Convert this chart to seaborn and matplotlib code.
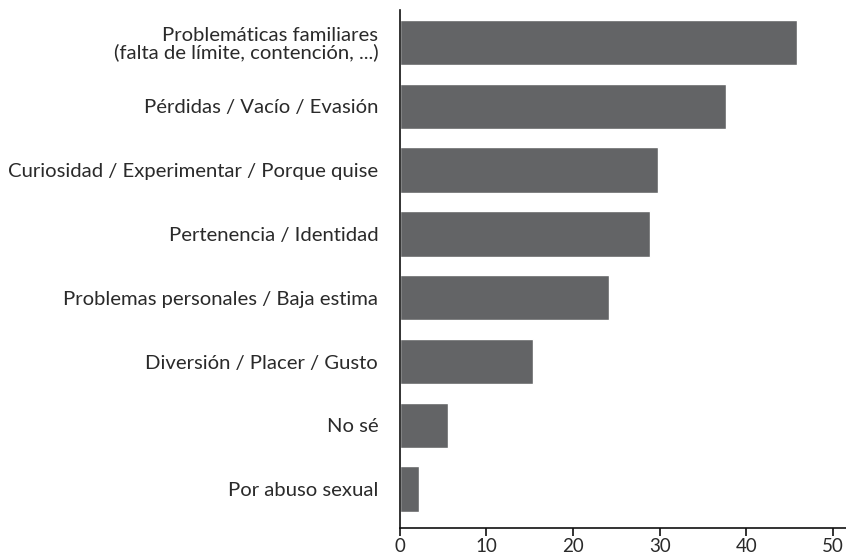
import pandas as pd
import seaborn as sns
import matplotlib.pyplot as plt

categories = [
    'Problemáticas familiares\n(falta de límite, contención, ...)',
    'Pérdidas / Vacío / Evasión',
    'Curiosidad / Experimentar / Porque quise',
    'Pertenencia / Identidad',
    'Problemas personales / Baja estima',
    'Diversión / Placer / Gusto',
    'No sé',
    'Por abuso sexual',
]
values = [45.9, 37.6, 29.8, 28.9, 24.1, 15.4, 5.6, 2.2]
xticks = [0, 10, 20, 30, 40, 50]

df = pd.DataFrame({'motivo': categories, 'pct': values})

sns.set_style('white')
plt.rcParams['font.family'] = ['Lato', 'DejaVu Sans']

fig = plt.figure(figsize=(8.46, 5.57), dpi=100)
ax = fig.add_axes([399.7 / 846, 1 - 528 / 557, 1 - 399.7 / 846, (528 - 10) / 557])

sns.barplot(data=df, x='pct', y='motivo', color='#636466', saturation=1,
            width=0.71, ax=ax)

ax.set_xlim(0, 51.5)
ax.set_ylim(7.61, -0.51)
ax.set_xticks(xticks)
ax.set_xlabel('')
ax.set_ylabel('')

for s in ['top', 'right']:
    ax.spines[s].set_visible(False)
for s in ['left', 'bottom']:
    ax.spines[s].set_color('#111111')
    ax.spines[s].set_linewidth(1.2)

ax.tick_params(axis='x', bottom=True, length=6, width=1.2, color='#111111',
               labelsize=13.5, labelcolor='#2a2a2a', pad=1)
ax.tick_params(axis='y', left=False, labelsize=14.6, labelcolor='#2a2a2a', pad=12)
for lab in ax.get_yticklabels():
    lab.set_linespacing(0.95)

fig.savefig('out.png', dpi=100)
